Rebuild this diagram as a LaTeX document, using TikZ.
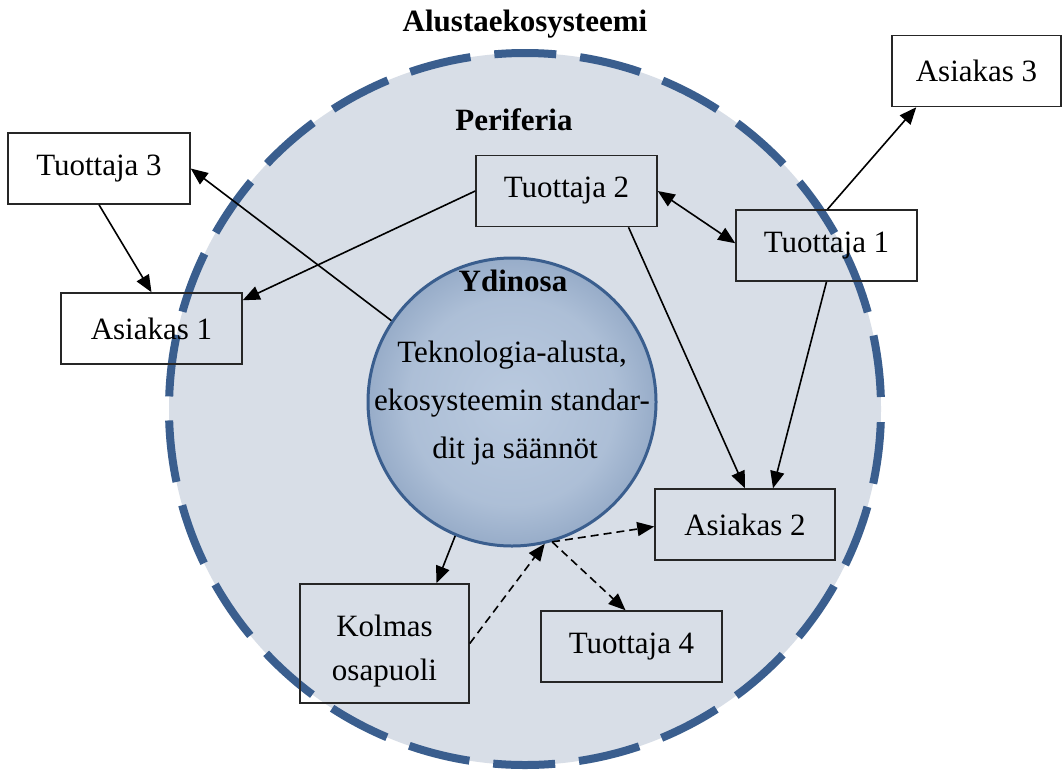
\documentclass[tikz,border=0pt]{standalone}
\usepackage{fontspec}
\setmainfont{Liberation Serif}
\usetikzlibrary{arrows.meta,calc}
\definecolor{periph}{HTML}{D8DEE7}
\definecolor{rim}{HTML}{3A5E8E}
\definecolor{corein}{HTML}{BACADF}
\definecolor{coreout}{HTML}{4B6B97}
\pgfdeclareradialshading{coreshade}{\pgfpoint{0bp}{0bp}}{%
  color(0bp)=(corein); color(18bp)=(corein!88!coreout);
  color(50bp)=(coreout); color(100bp)=(coreout)}
\begin{document}
\begin{tikzpicture}[x=0.5pt,y=-0.5pt,
  font=\fontsize{15.5}{18}\selectfont,
  box/.style={draw=black!85, line width=0.75pt, inner sep=0pt,
    minimum width=90.5pt, minimum height=35.5pt, align=center},
  link/.style={line width=0.8pt, -{Triangle[length=8.5pt,width=7pt]}},
  twoway/.style={line width=0.8pt,
    {Triangle[length=8.5pt,width=7pt]}-{Triangle[length=8.5pt,width=7pt]}},
  dlink/.style={link, dash pattern=on 4pt off 2.5pt},
  heading/.style={font=\fontsize{15.5}{18}\selectfont\bfseries}]

\useasboundingbox (0,0) rectangle (1063,771);
\fill[white] (0,0) rectangle (1063,771);

% ecosystem ring and its periphery
\node (periph) [circle, fill=periph, draw=rim, line width=4pt,
  dash pattern=on 31pt off 12pt, dash phase=37pt,
  minimum size=356pt, inner sep=0pt] at (525,409) {};

% platform core
\node (core) [circle, draw=rim, line width=1.5pt, shade, shading=coreshade,
  minimum size=144pt, inner sep=0pt] at (512,402) {};

% headings
\node[heading, anchor=base] (eco) at (525,31) {Alustaekosysteemi};
\node[heading, anchor=base] (per) at (514,130) {Periferia};
\node[heading, anchor=base] (coretitle) at (513,291) {Ydinosa};
\node[anchor=base] (core1) at (512,362) {Teknologia-alusta,};
\node[anchor=base] (core2) at (512,410) {ekosysteemin standar-};
\node[anchor=base] (core3) at (515,458) {dit ja säännöt};

% actors
\node[box, minimum width=91pt] (t3) at (99,168.5) {Tuottaja 3};
\node[box] (a1) at (151.5,328.5) {Asiakas 1};
\node[box] (t2) at (566.5,191) {Tuottaja 2};
\node[box] (t1) at (826.5,245.5) {Tuottaja 1};
\node[box, minimum width=84.5pt] (a3) at (976.5,71) {Asiakas 3};
\node[box, minimum width=90pt] (a2) at (745,524.5) {Asiakas 2};
\node[box] (t4) at (631.5,646.5) {Tuottaja 4};
\node[box, minimum width=84.5pt, minimum height=59.5pt] (ko) at (384.5,643.5) {};
\node[anchor=base] (ko1) at (384.5,636) {Kolmas};
\node[anchor=base] (ko2) at (384.5,680) {osapuoli};

% relations
\draw[link] (t3.south) -- (a1.north);
\draw[link] (core.146.5) -- (t3.east);
\draw[link] (t2.west) -- ($(a1.north east)+(0,8)$);
\draw[twoway] (t2.east) -- ($(t1.north west)+(0,34)$);
\draw[link] ($(t1.north)+(1,0)$) -- ($(a3.south west)+(25,0)$);
\draw[link] ($(t2.south)+(62,0)$) -- (a2.north);
\draw[link] (t1.south) -- ($(a2.north)+(28,0)$);
\draw[link] (core.247) -- ($(ko.north)+(52,0)$);

\coordinate (hub) at (core.286);
\draw[dlink] (ko.east) -- (core.283);
\draw[dlink] (hub) -- ($(a2.west)+(0,2)$);
\draw[dlink] (hub) -- ($(t4.north)+(-6,0)$);
\end{tikzpicture}
\end{document}
